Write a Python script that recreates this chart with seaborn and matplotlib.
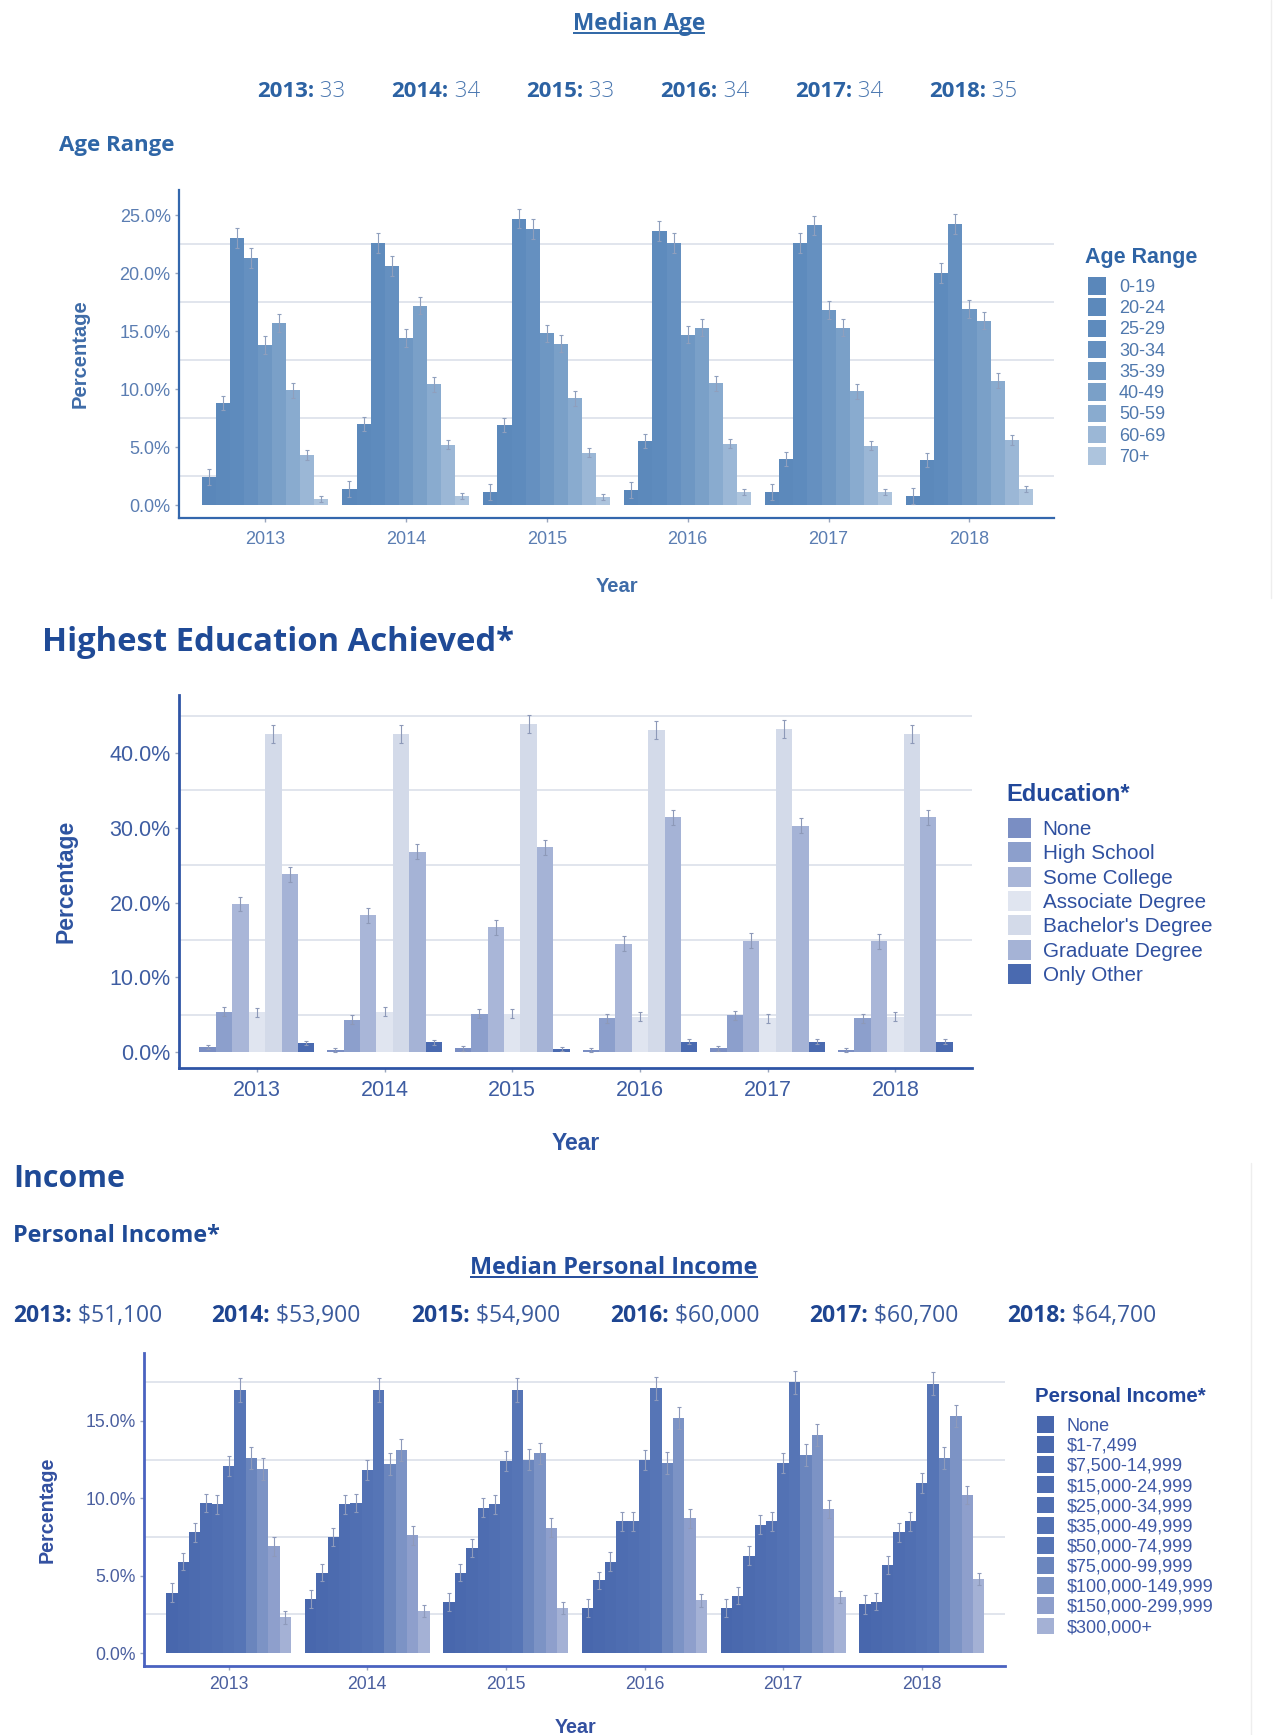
import numpy as np
import pandas as pd
import matplotlib
matplotlib.use("Agg")
import matplotlib.pyplot as plt
from matplotlib.ticker import PercentFormatter, MultipleLocator, FixedLocator
import seaborn as sns

W, H = 1273, 1735

# ---------------- data ----------------
years = ["2013", "2014", "2015", "2016", "2017", "2018"]

median_age = ["33", "34", "33", "34", "34", "35"]
median_income = ["$51,100", "$53,900", "$54,900", "$60,000", "$60,700", "$64,700"]

age_groups = ["0-19", "20-24", "25-29", "30-34", "35-39", "40-49", "50-59", "60-69", "70+"]
age_pct = [
    [2.4, 8.8, 23.0, 21.3, 13.8, 15.7, 9.9, 4.3, 0.5],
    [1.4, 7.0, 22.6, 20.6, 14.4, 17.2, 10.4, 5.2, 0.8],
    [1.1, 6.9, 24.7, 23.8, 14.8, 13.9, 9.2, 4.5, 0.7],
    [1.3, 5.5, 23.6, 22.6, 14.7, 15.3, 10.5, 5.3, 1.1],
    [1.1, 4.0, 22.6, 24.1, 16.8, 15.3, 9.8, 5.1, 1.1],
    [0.8, 3.9, 20.0, 24.2, 16.9, 15.9, 10.7, 5.6, 1.4],
]
age_err = [0.7, 0.6, 0.85, 0.85, 0.75, 0.75, 0.65, 0.4, 0.25]
age_colors = ["#5a87ba", "#5c89bb", "#5e8bbd", "#6590c0", "#6e97c3",
              "#7aa0c8", "#89abcf", "#9bb7d6", "#adc4dd"]

edu_levels = ["None", "High School", "Some College", "Associate Degree",
              "Bachelor's Degree", "Graduate Degree", "Only Other"]
edu_pct = [
    [0.7, 5.4, 19.8, 5.3, 42.5, 23.8, 1.2],
    [0.3, 4.3, 18.3, 5.4, 42.5, 26.8, 1.3],
    [0.5, 5.1, 16.7, 5.1, 43.9, 27.4, 0.4],
    [0.3, 4.5, 14.5, 4.7, 43.1, 31.4, 1.4],
    [0.5, 4.9, 14.9, 4.5, 43.2, 30.3, 1.4],
    [0.3, 4.5, 14.8, 4.7, 42.6, 31.4, 1.4],
]
edu_err = [0.3, 0.6, 1.0, 0.6, 1.2, 1.0, 0.3]
edu_colors = ["#7a8ec3", "#8c9fcc", "#a9b6d8", "#e0e5f0",
              "#d3dae9", "#a5b3d6", "#4a6ab0"]

income_bands = ["None", "$1-7,499", "$7,500-14,999", "$15,000-24,999",
                "$25,000-34,999", "$35,000-49,999", "$50,000-74,999",
                "$75,000-99,999", "$100,000-149,999", "$150,000-299,999",
                "$300,000+"]
income_pct = [
    [3.9, 5.9, 7.8, 9.7, 9.6, 12.1, 17.0, 12.6, 11.9, 6.9, 2.3],
    [3.5, 5.2, 7.5, 9.6, 9.7, 11.8, 17.0, 12.2, 13.1, 7.6, 2.7],
    [3.3, 5.2, 6.8, 9.4, 9.6, 12.4, 17.0, 12.5, 12.9, 8.1, 2.9],
    [2.9, 4.7, 5.9, 8.5, 8.5, 12.5, 17.1, 12.3, 15.2, 8.7, 3.4],
    [2.9, 3.7, 6.3, 8.3, 8.5, 12.3, 17.5, 12.8, 14.1, 9.3, 3.6],
    [3.15, 3.3, 5.7, 7.8, 8.5, 11.0, 17.4, 12.6, 15.3, 10.2, 4.8],
]
income_err = [0.6, 0.55, 0.6, 0.6, 0.6, 0.65, 0.75, 0.7, 0.7, 0.6, 0.4]
income_colors = ["#4867ad", "#4a69ae", "#4c6baf", "#4e6db1", "#506fb2",
                 "#5372b4", "#5675b6", "#6a85bd", "#7c93c5", "#8e9fcc", "#a4b1d5"]


def long_table(values, groups, name):
    rows = []
    for yr, row in zip(years, values):
        for g, v in zip(groups, row):
            rows.append({"Year": yr, name: g, "Pct": v})
    return pd.DataFrame(rows)


# ---------------- figure ----------------
sns.set_theme(style="white")
plt.rcParams["font.family"] = ["Liberation Sans", "DejaVu Sans"]

fig = plt.figure(figsize=(W / 100, H / 100), dpi=100)
fig.patch.set_facecolor("white")


def px_axes(left, top, right, bottom):
    return fig.add_axes([left / W, 1 - bottom / H, (right - left) / W, (bottom - top) / H])


def bar_panel(ax, df, hue, order, colors, errs, ylim, major, minor_pos,
              tick_fs, tick_color, spine_color, spine_lw, err_color, xpad):
    sns.barplot(data=df, x="Year", y="Pct", hue=hue, order=years, hue_order=order,
                palette=colors, width=0.9, saturation=1, errorbar=None,
                linewidth=0, dodge=True, ax=ax)
    handles = list(ax.legend_.legend_handles)
    ax.legend_.remove()
    bars = list(ax.containers)
    for cont, e in zip(bars, errs):
        xs = [b.get_x() + b.get_width() / 2 for b in cont]
        ys = [b.get_height() for b in cont]
        ax.errorbar(xs, ys, yerr=e, fmt="none", ecolor=err_color,
                    elinewidth=0.8, capsize=1.4, capthick=0.8, zorder=3)
    ax.set_xlim(-0.61, 5.6)
    ax.set_ylim(*ylim)
    ax.yaxis.set_major_locator(MultipleLocator(major))
    ax.yaxis.set_minor_locator(FixedLocator(minor_pos))
    ax.yaxis.set_major_formatter(PercentFormatter(100, decimals=1))
    ax.grid(False)
    ax.grid(True, which="minor", axis="y", color="#d9dee8", lw=1.1)
    ax.set_axisbelow(True)
    for s in ("top", "right"):
        ax.spines[s].set_visible(False)
    for s in ("left", "bottom"):
        ax.spines[s].set_color(spine_color)
        ax.spines[s].set_linewidth(spine_lw)
    ax.tick_params(axis="both", which="major", labelsize=tick_fs, labelcolor=tick_color,
                   length=3, width=1, color="#9aa6bd", pad=3, left=True, bottom=True)
    ax.tick_params(axis="x", which="major", pad=xpad)
    ax.tick_params(axis="both", which="minor", length=0)
    return handles


def axis_titles(ax, xl, yl, fs, color, xpos, ypos):
    ax.set_xlabel(xl, fontsize=fs, fontweight="bold", color=color, va="center")
    ax.set_ylabel(yl, fontsize=fs, fontweight="bold", color=color, va="center")
    ax.xaxis.set_label_coords(*xpos)
    ax.yaxis.set_label_coords(*ypos)


def legend_block(ax, handles, labels, title, tx, ty, title_fs, title_color,
                 lx, ly, fs, color, hl, hh, spacing, pad):
    fig.text(tx / W, 1 - ty / H, title, fontsize=title_fs, fontweight="bold",
             color=title_color, ha="left", va="center")
    leg = ax.legend(handles, labels, loc="upper left",
                    bbox_to_anchor=(lx / W, 1 - ly / H), bbox_transform=fig.transFigure,
                    frameon=False, fontsize=fs, labelcolor=color, handlelength=hl,
                    handleheight=hh, labelspacing=spacing, handletextpad=pad,
                    borderpad=0, borderaxespad=0)
    for h in leg.legend_handles:
        h.set_linewidth(0)
    return leg


# ---- Age range panel ----
ax1 = px_axes(179, 190, 1054, 518)
h1 = bar_panel(ax1, long_table(age_pct, age_groups, "Age Range"), "Age Range",
               age_groups, age_colors, age_err, (-1.12, 27.16), 5,
               [2.5, 7.5, 12.5, 17.5, 22.5], 13, "#5a7db2", "#3467ad", 1.6, "#8f9fbd", 6)
axis_titles(ax1, "Year", "Percentage", 14.5, "#3f6ca8",
            ((617 - 179) / 875, (518 - 587) / 328), ((80 - 179) / 875, 0.5))
legend_block(ax1, h1, age_groups, "Age Range", 1085, 257, 15.5, "#2f64a5",
             1088, 277, 13, "#4f78ad", 1.0, 1.12, 0.13, 0.72)

# ---- Education panel ----
ax2 = px_axes(179, 695, 972, 1068)
h2 = bar_panel(ax2, long_table(edu_pct, edu_levels, "Education"), "Education",
               edu_levels, edu_colors, edu_err, (-2.14, 47.76), 10,
               [5, 15, 25, 35, 45], 15.5, "#3e5da2", "#2f55a6", 2.0, "#8d99b8", 5.5)
axis_titles(ax2, "Year", "Percentage", 16.5, "#2d53a0",
            ((576 - 179) / 793, (1068 - 1143) / 373), ((66 - 179) / 793, 0.5))
legend_block(ax2, h2, edu_levels, "Education*", 1006, 794, 17, "#22489a",
             1008, 818, 14.9, "#2f50a0", 1.12, 1.12, 0.155, 0.55)

# ---- Personal income panel ----
ax3 = px_axes(144, 1353, 1005, 1666)
h3 = bar_panel(ax3, long_table(income_pct, income_bands, "Income"), "Income",
               income_bands, income_colors, income_err, (-0.84, 19.39), 5,
               [2.5, 7.5, 12.5, 17.5], 12.7, "#4a5f9f", "#4a62c0", 2.0, "#8e9abb", 4)
axis_titles(ax3, "Year", "Percentage", 14.2, "#3350a0",
            ((576 - 144) / 861, (1666 - 1727) / 313), ((47 - 144) / 861, 0.5))
legend_block(ax3, h3, income_bands, "Personal Income*", 1035, 1396, 14.7, "#22469a",
             1037, 1416, 13, "#3d58a5", 0.95, 1.05, 0.09, 0.7)

# ---------------- page headings ----------------
ov = fig.add_axes([0, 0, 1, 1], zorder=5)
ov.set_xlim(0, W)
ov.set_ylim(H, 0)
ov.axis("off")

HEAD = ["Open Sans", "DejaVu Sans"]


def underlined(x, y, s, fs, color):
    t = ov.text(x, y, s, fontsize=fs, fontweight="bold", color=color,
                ha="center", va="baseline", family=HEAD)
    return t


def year_value_row(xs, y, vals, fs, lab_color, val_color, val_weight):
    for x, yr, v in zip(xs, years, vals):
        lab = ov.text(x, y, f"{yr}:", fontsize=fs, fontweight="bold", color=lab_color,
                      ha="left", va="baseline", family=HEAD)
        ov.annotate(f" {v}", xy=(1, 0), xycoords=lab, fontsize=fs, color=val_color,
                    ha="left", va="bottom", family=HEAD, fontweight=val_weight)


t_age = underlined(639, 30, "Median Age", 16.3, "#2f66a6")
year_value_row([257 + 134.5 * i for i in range(6)], 97, median_age, 16,
               "#2c62a3", "#4a77b0", "light")
ov.text(59, 151, "Age Range", fontsize=16, fontweight="bold", color="#2f66a6",
        ha="left", va="baseline", family=HEAD)

ov.text(42, 651, "Highest Education Achieved*", fontsize=23.6, fontweight="bold",
        color="#1f4a96", ha="left", va="baseline", family=HEAD)

ov.text(13, 1187, "Income", fontsize=21.8, fontweight="bold", color="#1f4a96",
        ha="left", va="baseline", family=HEAD)
ov.text(13, 1242, "Personal Income*", fontsize=16.8, fontweight="bold", color="#1f4a96",
        ha="left", va="baseline", family=HEAD)
t_inc = underlined(614, 1274, "Median Personal Income", 16.8, "#224c9c")
year_value_row([13, 211, 411, 610, 809, 1007], 1322, median_income, 16.5,
               "#1e4591", "#3a5a9c", "normal")

# faint page borders
ov.plot([1271, 1271], [0, 598], color="#eeeeee", lw=1)
ov.plot([1251, 1251], [1163, H], color="#eeeeee", lw=1)

# underline the two sub-headings
fig.canvas.draw()
r = fig.canvas.get_renderer()
for t, yb in ((t_age, 30), (t_inc, 1274)):
    bb = t.get_window_extent(r)
    ov.plot([bb.x0, bb.x1], [yb + 3, yb + 3], color=t.get_color(), lw=1.4,
            solid_capstyle="butt")

fig.savefig("out.png", dpi=100, facecolor="white")
